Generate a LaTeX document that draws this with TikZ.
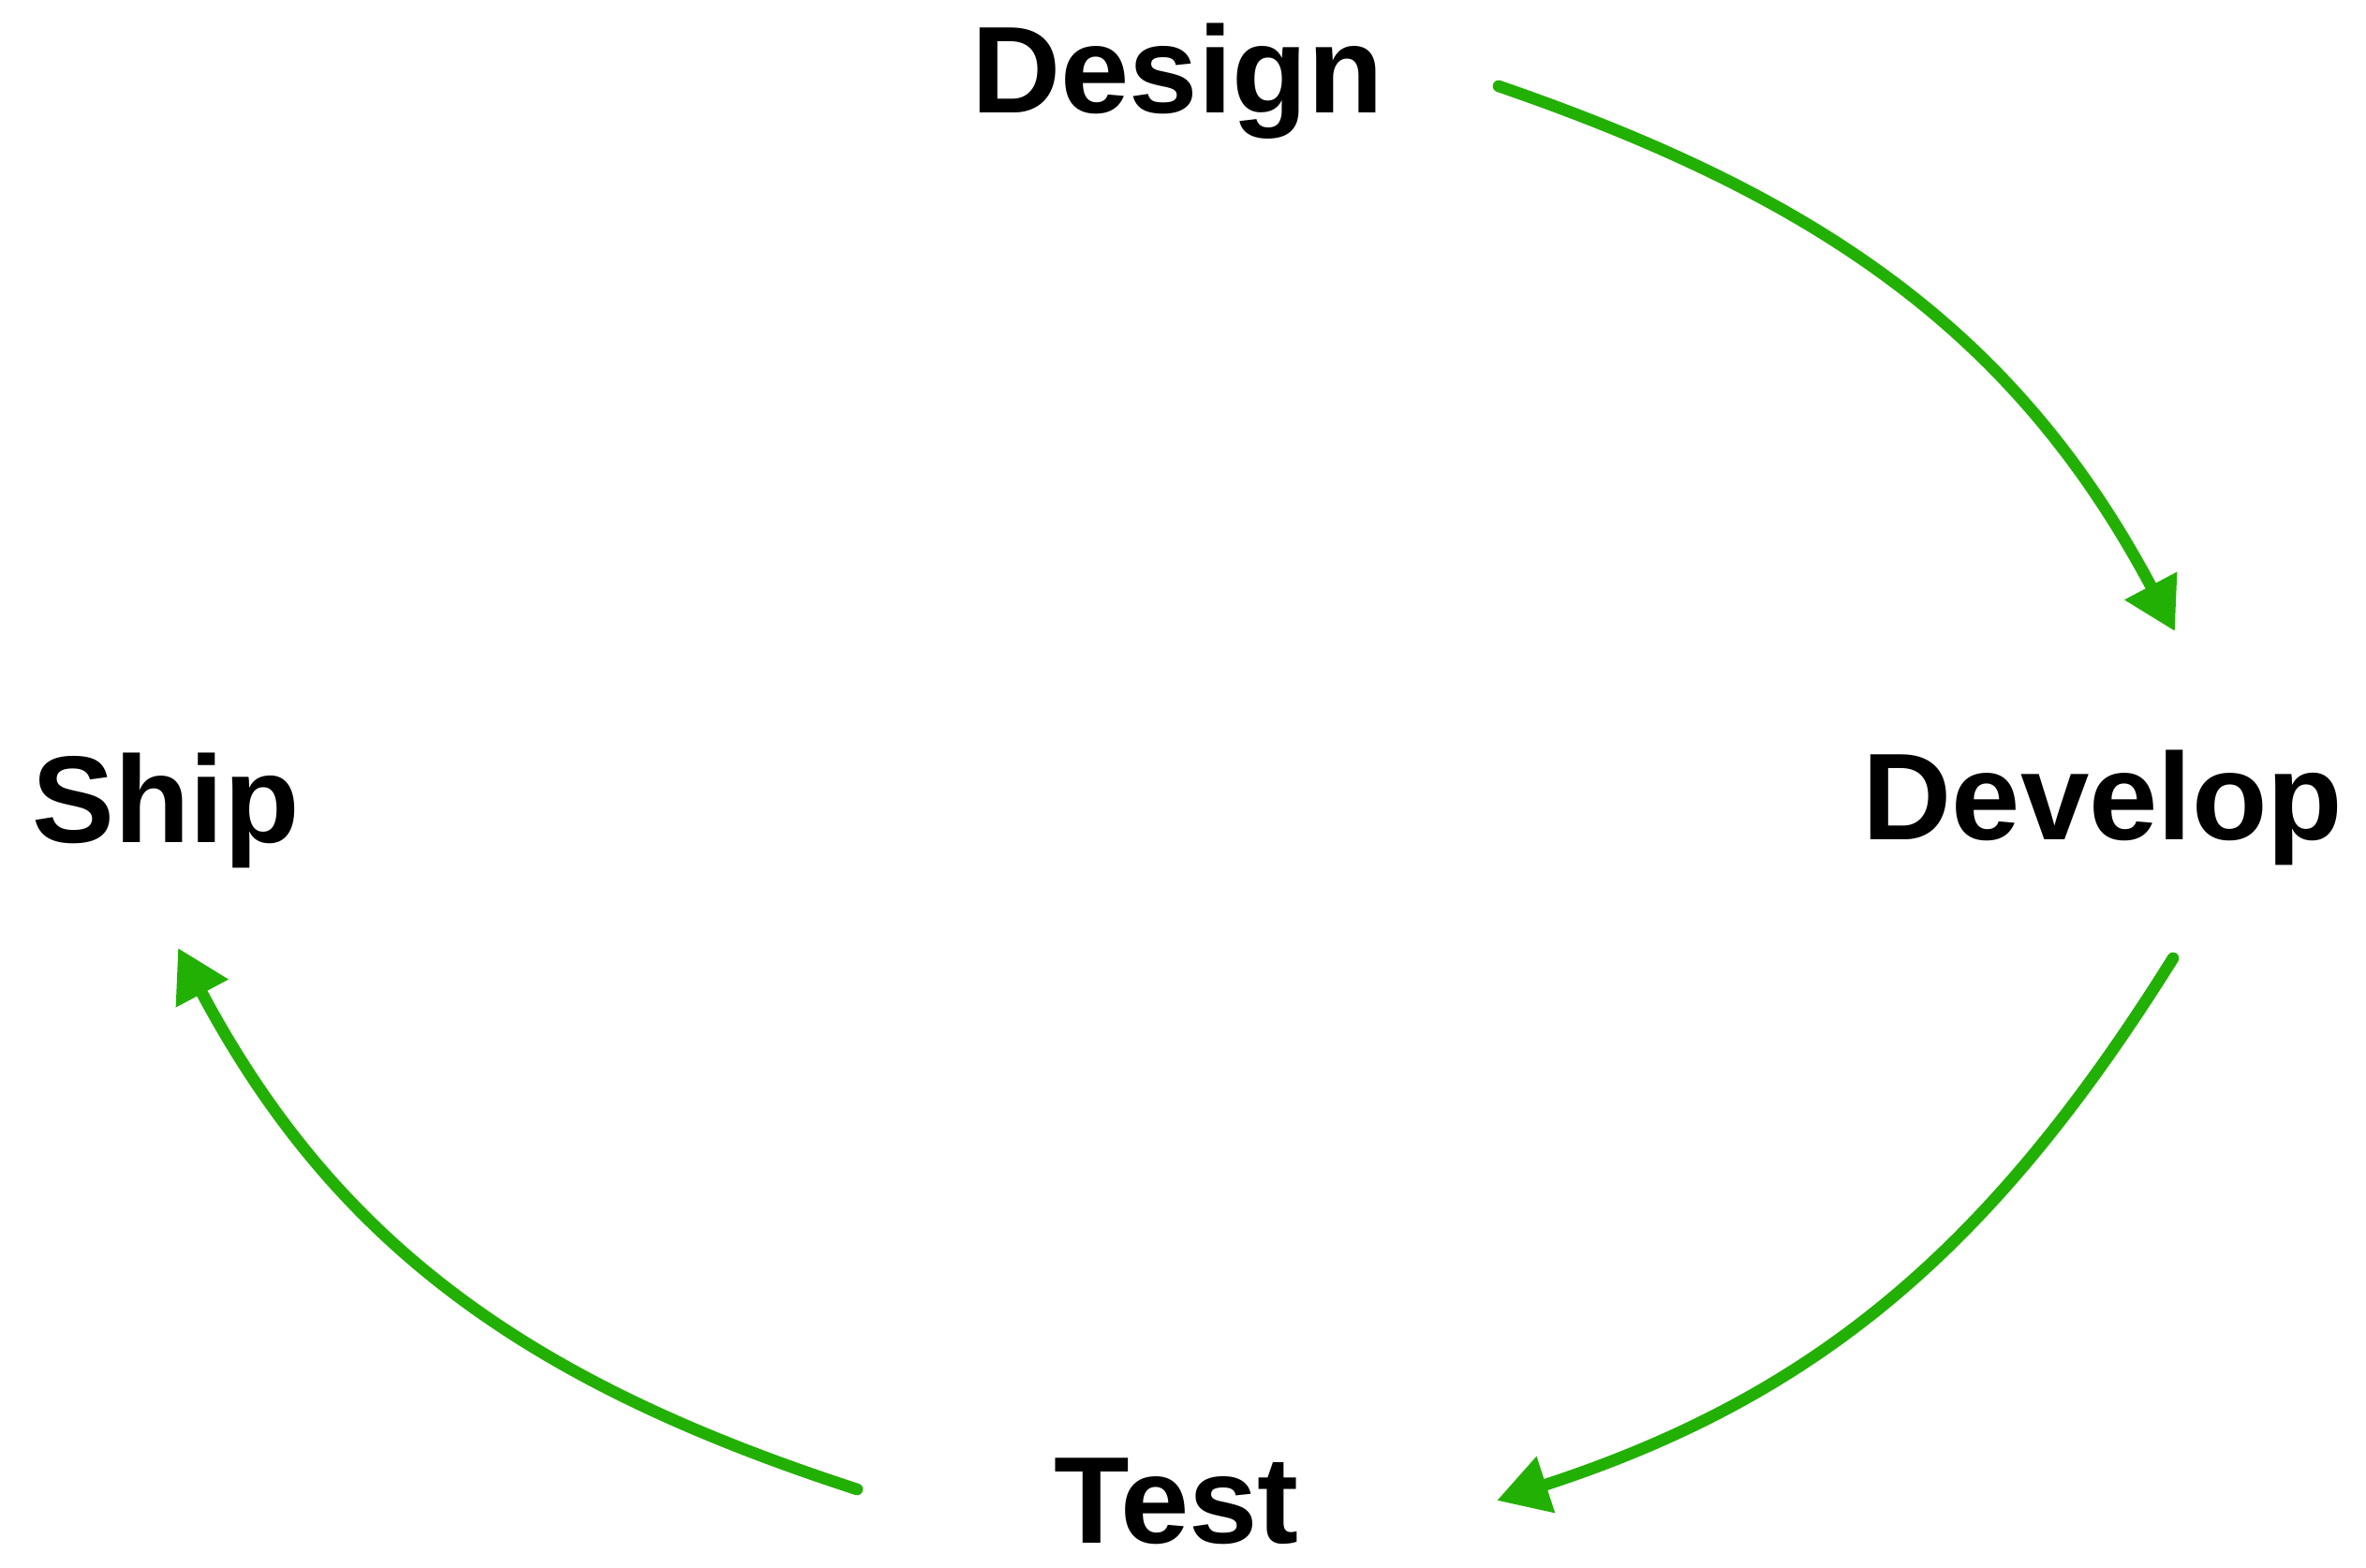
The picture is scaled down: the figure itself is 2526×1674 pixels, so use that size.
\documentclass[tikz,border=0pt]{standalone}
\usepackage{fontspec}
\setmainfont{Liberation Sans}
\usetikzlibrary{arrows.meta}
\definecolor{cyclegreen}{RGB}{35,176,5}
\tikzset{
  phase/.style={inner sep=0pt, anchor=base, font=\fontsize{37.5}{40}\selectfont\bfseries},
  cyclearrow/.style={cyclegreen, line width=3.6pt, line cap=round,
    -{Triangle[length=5.5mm,width=6mm]}}
}
\begin{document}
\begin{tikzpicture}[x=0.01cm,y=-0.01cm]
            \useasboundingbox (0,0) rectangle (2526,1674);
            \node[phase] (v0) at (1257,121) {Design};
            \node[phase] (v1) at (2245,897) {Develop};
            \node[phase] (v2) at (1256,1648) {Test};
            \node[phase] (v3) at (177,900) {Ship};

            \coordinate (a0) at (1600,92);
            \coordinate (b0) at (2322,674);
            \coordinate (a1) at (2320,1023);
            \coordinate (b1) at (1598,1602);
            \coordinate (a2) at (915,1590);
            \coordinate (b2) at (190,1012);

            \draw[cyclearrow] (a0) to[out=-19, in=118] (b0);
            \draw[cyclearrow] (a1) to[out=-122, in=18] (b1);
            \draw[cyclearrow] (a2) to[out=162, in=-62] (b2);
        \end{tikzpicture}
\end{document}
